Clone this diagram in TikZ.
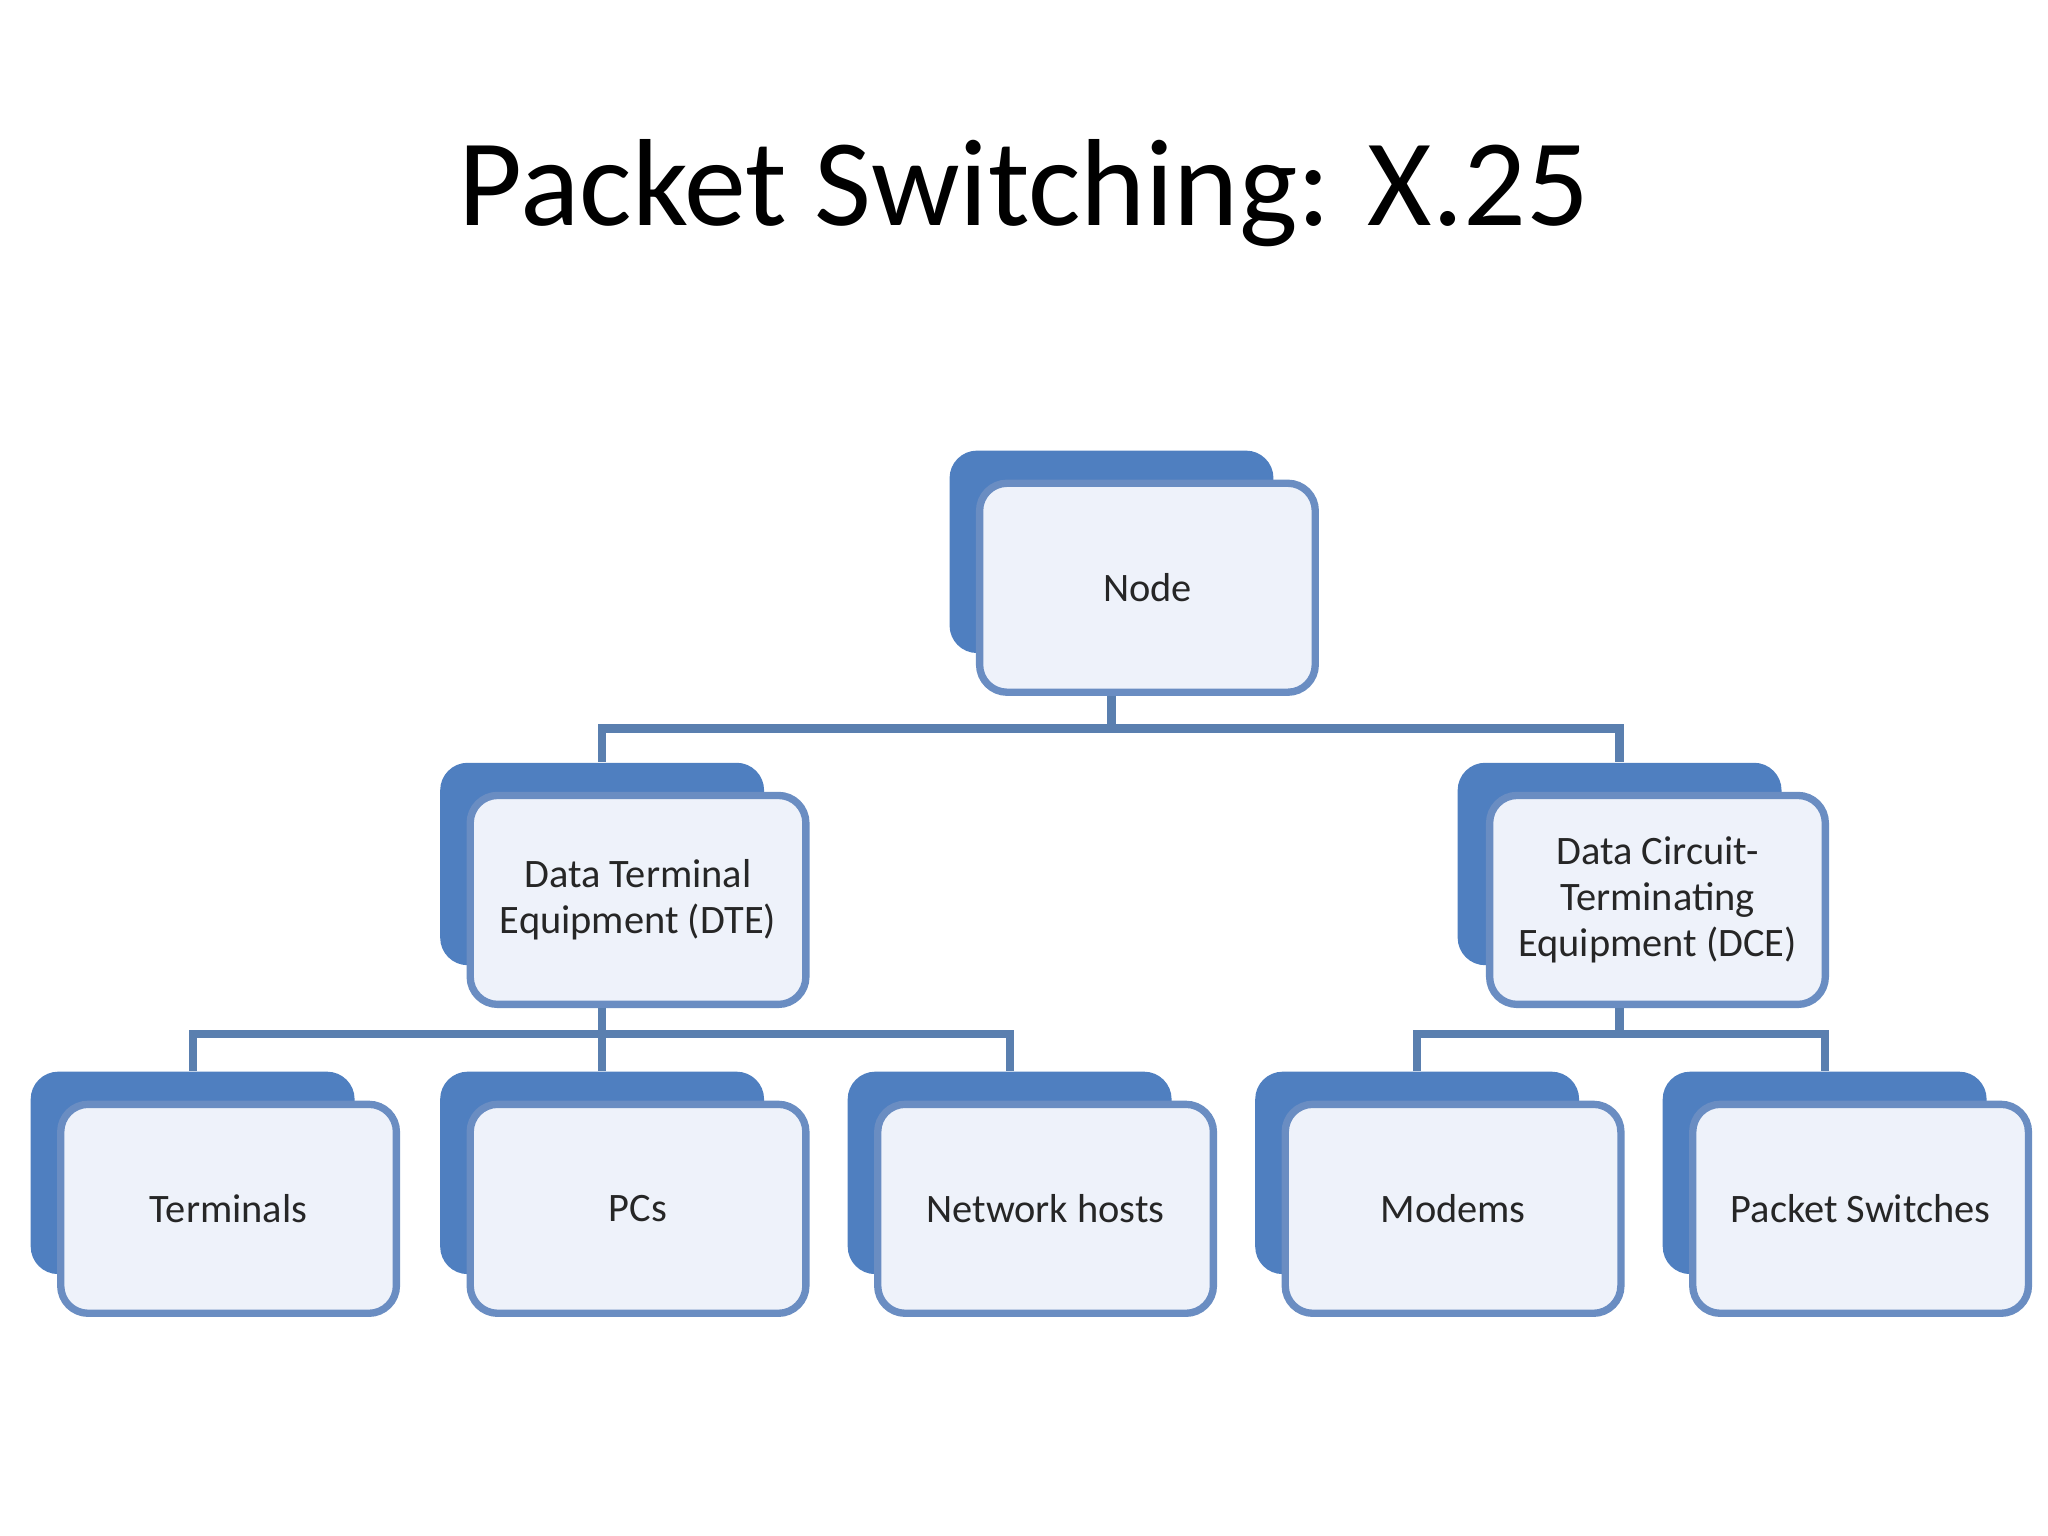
\documentclass[tikz,border=0pt]{standalone}
\usepackage{fontspec}
\setmainfont{Carlito}
\usetikzlibrary{positioning}
\definecolor{backblue}{HTML}{4F7FC0}
\definecolor{frontfill}{HTML}{EEF2FA}
\definecolor{edgeblue}{HTML}{6A8DC2}
\definecolor{linkblue}{HTML}{5A7FAF}
\tikzset{
  back/.style={fill=backblue, draw=none, rounded corners=6pt, minimum width=2.48cm, minimum height=1.55cm},
  front/.style={fill=frontfill, draw=edgeblue, line width=1.6pt, rounded corners=6pt,
    minimum width=2.57cm, minimum height=1.6cm, align=center, font=\fontsize{8.8}{10}\selectfont, text=black!85},
  link/.style={draw=linkblue, line width=1.8pt}
}
\begin{document}
\begin{tikzpicture}
  \useasboundingbox (0,0) rectangle (15.68,-11.76);
  \node[font=\fontsize{27}{30}\selectfont] (title) at (7.84,-1.48) {Packet Switching: X.25};

  % top level
  \node[back] (node_b) at (8.51,-4.225) {};
  \node[front] (node) at (8.785,-4.5) {Node};

  % second level
  \node[back] (dte_b) at (4.61,-6.615) {};
  \node[front] (dte) at (4.885,-6.89) {Data Terminal\\Equipment (DTE)};
  \node[back] (dce_b) at (12.40,-6.615) {};
  \node[front] (dce) at (12.69,-6.89) {Data Circuit-\\Terminating\\Equipment (DCE)};

  % third level
  \foreach \name/\x/\label in {term/1.475/Terminals, pcs/4.61/PCs, hosts/7.73/Network hosts,
                               modems/10.85/Modems, switches/13.97/Packet Switches} {
    \node[back] (\name_b) at (\x,-8.98) {};
    \node[front] (\name) at (\x+0.275,-9.255) {\label};
  }

  % connectors
  \draw[link] (node_b.center |- node.south) -- ++(0,-0.25) coordinate (split1);
  \draw[link] (dte_b.north) |- (split1) -| (dce_b.north);
  \draw[link] (dte_b.center |- dte.south) -- ++(0,-0.2) coordinate (split2);
  \draw[link] (term_b.north) |- (split2) -| (hosts_b.north);
  \draw[link] (split2) -- (pcs_b.north);
  \draw[link] (dce_b.center |- dce.south) -- ++(0,-0.2) coordinate (split3);
  \draw[link] (modems_b.north) |- (split3) -| (switches_b.north);
\end{tikzpicture}
\end{document}
